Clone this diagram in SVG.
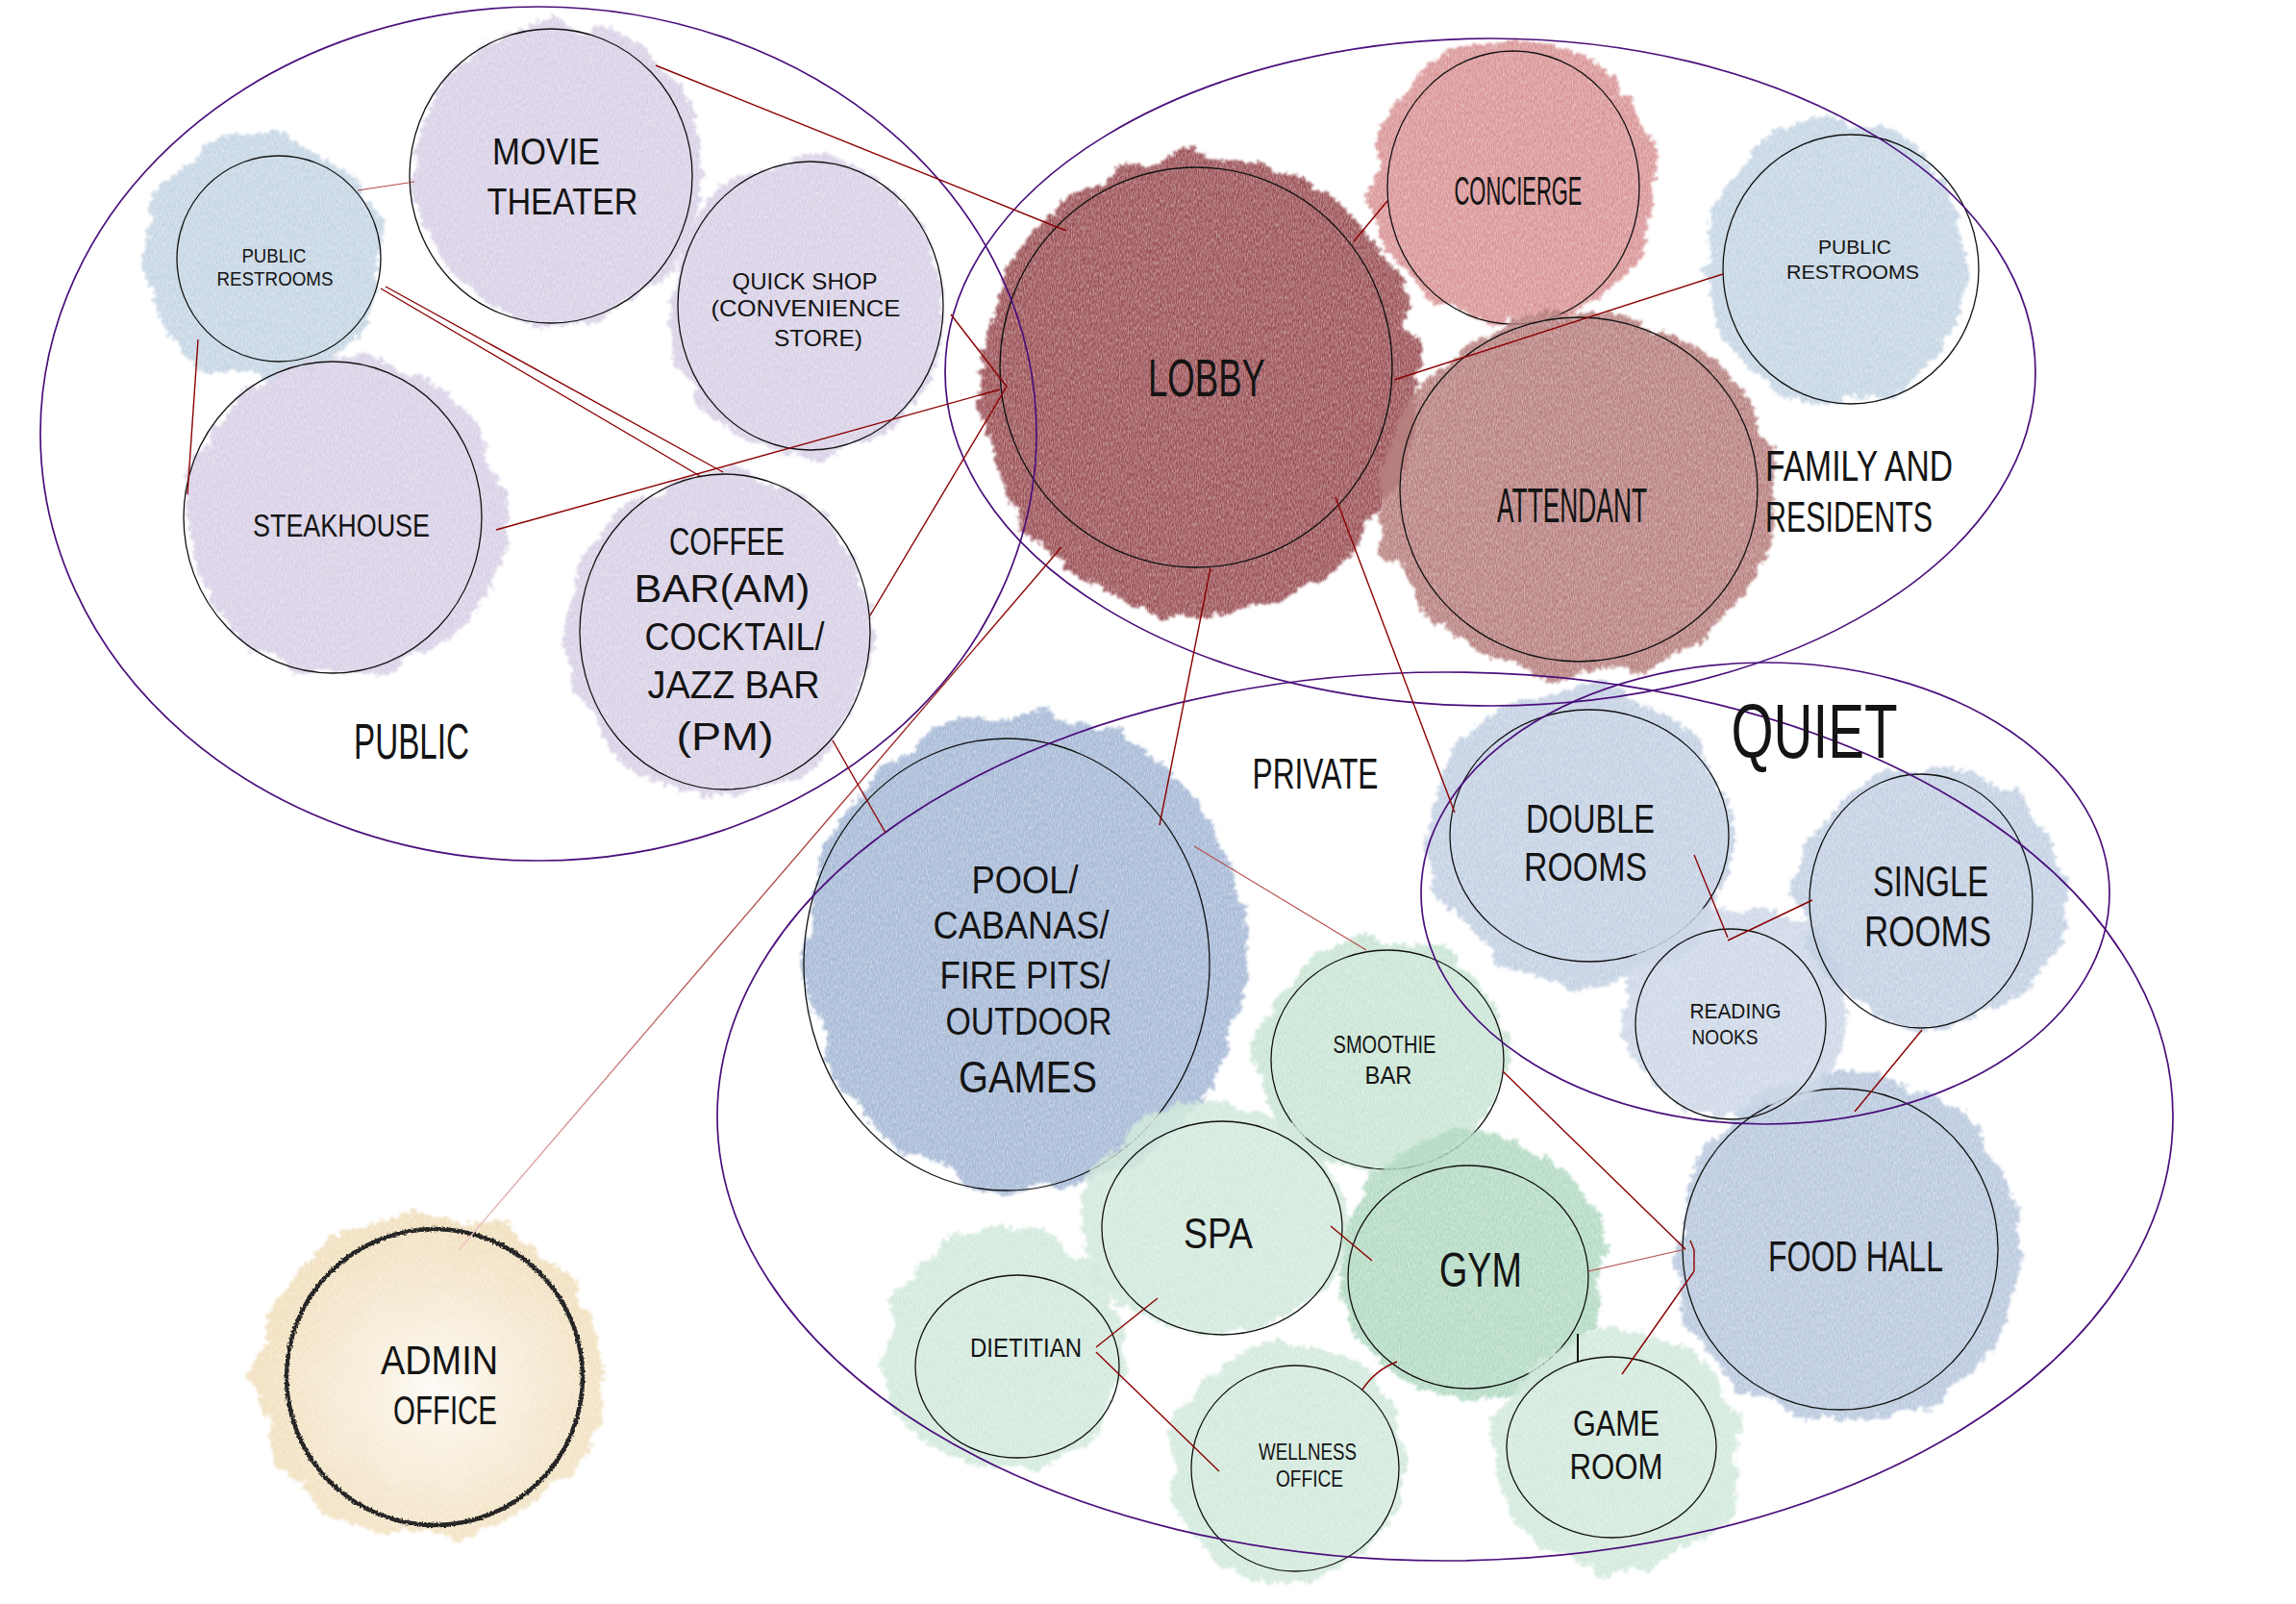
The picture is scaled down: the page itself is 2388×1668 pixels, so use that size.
<svg xmlns="http://www.w3.org/2000/svg" width="2388" height="1668" viewBox="0 0 2388 1668">
<defs>
<style>
.node{fill:none;stroke:#111;stroke-width:1.3}
.zone{fill:none;stroke:#4b0f7c;stroke-width:1.7}
.blob{filter:url(#wc)}
.t{font-family:"Liberation Sans",Arial,sans-serif;fill:#141414;text-anchor:middle}
.ts{font-family:"Liberation Sans",Arial,sans-serif;fill:#141414;text-anchor:start}
.c{stroke:#8b0000;stroke-width:1.4;fill:none}
.cl{stroke:#b44a4a;stroke-width:1.2;fill:none}
</style>
<filter id="wc" x="-20%" y="-20%" width="140%" height="140%" color-interpolation-filters="sRGB">
<feTurbulence type="fractalNoise" baseFrequency="0.022" numOctaves="3" seed="5" result="n1"/>
<feDisplacementMap in="SourceGraphic" in2="n1" scale="30" xChannelSelector="R" yChannelSelector="B" result="d0"/>
<feTurbulence type="fractalNoise" baseFrequency="0.18" numOctaves="2" seed="11" result="n3"/>
<feDisplacementMap in="d0" in2="n3" scale="12" xChannelSelector="G" yChannelSelector="R" result="d1"/>
<feGaussianBlur in="d1" stdDeviation="1.2" result="d"/>
<feTurbulence type="fractalNoise" baseFrequency="0.9 0.25" numOctaves="2" seed="9" result="n2"/>
<feColorMatrix in="n2" type="matrix" values="0 0 0 0 0  0 0 0 0 0  0 0 0 0 0  0.8 0 0 0 0.45" result="g"/>
<feComposite in="d" in2="g" operator="in"/>
</filter>
<filter id="rough" x="-10%" y="-10%" width="120%" height="120%">
<feTurbulence type="fractalNoise" baseFrequency="0.5" numOctaves="2" seed="3" result="n"/>
<feDisplacementMap in="SourceGraphic" in2="n" scale="4" xChannelSelector="R" yChannelSelector="G"/>
</filter>
<radialGradient id="adminFill" cx="0.52" cy="0.55" r="0.5">
<stop offset="0" stop-color="#fdfbf6"/>
<stop offset="0.35" stop-color="#f8eedc"/>
<stop offset="1" stop-color="#f1dfbd"/>
</radialGradient>
<linearGradient id="adminLine" gradientUnits="userSpaceOnUse" x1="1104" y1="569" x2="477" y2="1300">
<stop offset="0" stop-color="#8b0000"/>
<stop offset="0.6" stop-color="#b85a5a"/>
<stop offset="1" stop-color="#eec6c6"/>
</linearGradient>
</defs>
<rect width="2388" height="1668" fill="#ffffff"/>

<g id="nodes">
<g id="movie-theater">
<ellipse class="blob" cx="580" cy="180" rx="150" ry="155" fill="#d8d0e6"/>
<ellipse class="node" cx="573" cy="183" rx="147" ry="153"/>
<text class="t" x="568" y="171" font-size="38" textLength="112" lengthAdjust="spacingAndGlyphs">MOVIE</text>
<text class="t" x="585" y="223" font-size="38" textLength="157" lengthAdjust="spacingAndGlyphs">THEATER</text>
</g>
<g id="public-restrooms-left">
<ellipse class="blob" cx="272" cy="268" rx="125" ry="128" fill="#c5d5e4"/>
<ellipse class="node" cx="290" cy="269" rx="106" ry="107"/>
<text class="t" x="285" y="273" font-size="20" textLength="67" lengthAdjust="spacingAndGlyphs">PUBLIC</text>
<text class="t" x="286" y="297" font-size="20" textLength="121" lengthAdjust="spacingAndGlyphs">RESTROOMS</text>
</g>
<g id="quick-shop">
<ellipse class="blob" cx="840" cy="320" rx="145" ry="155" fill="#d8d0e6"/>
<ellipse class="node" cx="843" cy="318" rx="138" ry="150"/>
<text class="t" x="837" y="301" font-size="24" textLength="151" lengthAdjust="spacingAndGlyphs">QUICK SHOP</text>
<text class="t" x="838" y="329" font-size="24" textLength="197" lengthAdjust="spacingAndGlyphs">(CONVENIENCE</text>
<text class="t" x="851" y="360" font-size="24" textLength="92" lengthAdjust="spacingAndGlyphs">STORE)</text>
</g>
<g id="steakhouse">
<ellipse class="blob" cx="360" cy="538" rx="165" ry="165" fill="#d8d0e6"/>
<ellipse class="node" cx="346" cy="538" rx="155" ry="162"/>
<text class="t" x="355" y="558" font-size="34" textLength="184" lengthAdjust="spacingAndGlyphs">STEAKHOUSE</text>
</g>
<g id="coffee-bar">
<ellipse class="blob" cx="748" cy="660" rx="160" ry="168" fill="#d8d0e6"/>
<ellipse class="node" cx="754" cy="657" rx="151" ry="164"/>
<text class="t" x="756" y="577" font-size="40" textLength="120" lengthAdjust="spacingAndGlyphs">COFFEE</text>
<text class="t" x="751" y="626" font-size="40" textLength="183" lengthAdjust="spacingAndGlyphs">BAR(AM)</text>
<text class="t" x="764" y="676" font-size="40" textLength="187" lengthAdjust="spacingAndGlyphs">COCKTAIL/</text>
<text class="t" x="763" y="726" font-size="40" textLength="179" lengthAdjust="spacingAndGlyphs">JAZZ BAR</text>
<text class="t" x="754" y="780" font-size="40" textLength="101" lengthAdjust="spacingAndGlyphs">(PM)</text>
</g>
<g id="lobby">
<ellipse class="blob" cx="1248" cy="400" rx="228" ry="240" fill="#9b5257"/>
<ellipse class="node" cx="1244" cy="382" rx="204" ry="208"/>
<text class="t" x="1255" y="412" font-size="56" textLength="122" lengthAdjust="spacingAndGlyphs">LOBBY</text>
</g>
<g id="concierge">
<ellipse class="blob" cx="1575" cy="190" rx="148" ry="148" fill="#d99496"/>
<ellipse class="node" cx="1574" cy="195" rx="131" ry="142"/>
<text class="t" x="1579" y="213" font-size="42" textLength="133" lengthAdjust="spacingAndGlyphs">CONCIERGE</text>
</g>
<g id="attendant">
<ellipse class="blob" cx="1643" cy="515" rx="205" ry="190" fill="#b7807f"/>
<ellipse class="node" cx="1642" cy="509" rx="186" ry="179"/>
<text class="t" x="1635" y="543" font-size="50" textLength="156" lengthAdjust="spacingAndGlyphs">ATTENDANT</text>
</g>
<g id="public-restrooms-right">
<ellipse class="blob" cx="1910" cy="272" rx="135" ry="148" fill="#c5d5e4"/>
<ellipse class="node" cx="1925" cy="280" rx="133" ry="140"/>
<text class="t" x="1929" y="264" font-size="21" textLength="76" lengthAdjust="spacingAndGlyphs">PUBLIC</text>
<text class="t" x="1927" y="290" font-size="21" textLength="138" lengthAdjust="spacingAndGlyphs">RESTROOMS</text>
</g>
<g id="pool">
<ellipse class="blob" cx="1068" cy="990" rx="230" ry="248" fill="#a6b9d6"/>
<ellipse class="node" cx="1047" cy="1003" rx="211" ry="235"/>
<text class="t" x="1066" y="929" font-size="40" textLength="111" lengthAdjust="spacingAndGlyphs">POOL/</text>
<text class="t" x="1062" y="976" font-size="40" textLength="183" lengthAdjust="spacingAndGlyphs">CABANAS/</text>
<text class="t" x="1066" y="1028" font-size="40" textLength="177" lengthAdjust="spacingAndGlyphs">FIRE PITS/</text>
<text class="t" x="1070" y="1076" font-size="40" textLength="173" lengthAdjust="spacingAndGlyphs">OUTDOOR</text>
<text class="t" x="1069" y="1136" font-size="46" textLength="144" lengthAdjust="spacingAndGlyphs">GAMES</text>
</g>
<g id="smoothie-bar">
<ellipse class="blob" cx="1438" cy="1098" rx="130" ry="123" fill="#c9e5d4"/>
<ellipse class="node" cx="1443" cy="1102" rx="121" ry="114"/>
<text class="t" x="1440" y="1095" font-size="26" textLength="107" lengthAdjust="spacingAndGlyphs">SMOOTHIE</text>
<text class="t" x="1444" y="1127" font-size="26" textLength="49" lengthAdjust="spacingAndGlyphs">BAR</text>
</g>
<g id="spa">
<ellipse class="blob" cx="1262" cy="1268" rx="138" ry="122" fill="#d2e9dc"/>
<ellipse class="node" cx="1271" cy="1277" rx="125" ry="111"/>
<text class="t" x="1267" y="1298" font-size="44" textLength="72" lengthAdjust="spacingAndGlyphs">SPA</text>
</g>
<g id="gym">
<ellipse class="blob" cx="1530" cy="1315" rx="138" ry="140" fill="#b3dac3"/>
<ellipse class="node" cx="1527" cy="1328" rx="125" ry="116"/>
<text class="t" x="1540" y="1338" font-size="50" textLength="86" lengthAdjust="spacingAndGlyphs">GYM</text>
</g>
<g id="dietitian">
<ellipse class="blob" cx="1047" cy="1405" rx="125" ry="130" fill="#d2e9dc"/>
<ellipse class="node" cx="1058" cy="1421" rx="106" ry="95"/>
<text class="t" x="1067" y="1411" font-size="28" textLength="116" lengthAdjust="spacingAndGlyphs">DIETITIAN</text>
</g>
<g id="wellness-office">
<ellipse class="blob" cx="1338" cy="1522" rx="123" ry="125" fill="#d2e9dc"/>
<ellipse class="node" cx="1347" cy="1527" rx="108" ry="107"/>
<text class="t" x="1360" y="1518" font-size="23" textLength="102" lengthAdjust="spacingAndGlyphs">WELLNESS</text>
<text class="t" x="1362" y="1546" font-size="23" textLength="70" lengthAdjust="spacingAndGlyphs">OFFICE</text>
</g>
<g id="game-room">
<ellipse class="blob" cx="1683" cy="1510" rx="130" ry="125" fill="#d2e9dc"/>
<ellipse class="node" cx="1676" cy="1505" rx="109" ry="94"/>
<text class="t" x="1681" y="1493" font-size="37" textLength="90" lengthAdjust="spacingAndGlyphs">GAME</text>
<text class="t" x="1681" y="1538" font-size="37" textLength="97" lengthAdjust="spacingAndGlyphs">ROOM</text>
</g>
<g id="food-hall">
<ellipse class="blob" cx="1921" cy="1300" rx="178" ry="182" fill="#b9c8de"/>
<ellipse class="node" cx="1914" cy="1299" rx="164" ry="167"/>
<text class="t" x="1930" y="1322" font-size="44" textLength="182" lengthAdjust="spacingAndGlyphs">FOOD HALL</text>
</g>
<g id="double-rooms">
<ellipse class="blob" cx="1644" cy="871" rx="160" ry="155" fill="#c3d0e3"/>
<ellipse class="node" cx="1653" cy="869" rx="145" ry="131"/>
<text class="t" x="1654" y="866" font-size="42" textLength="134" lengthAdjust="spacingAndGlyphs">DOUBLE</text>
<text class="t" x="1649" y="916" font-size="42" textLength="128" lengthAdjust="spacingAndGlyphs">ROOMS</text>
</g>
<g id="reading-nooks">
<ellipse class="blob" cx="1806" cy="1052" rx="117" ry="110" fill="#cdd7e7"/>
<ellipse class="node" cx="1800" cy="1065" rx="99" ry="99"/>
<text class="t" x="1805" y="1059" font-size="22" textLength="95" lengthAdjust="spacingAndGlyphs">READING</text>
<text class="t" x="1794" y="1086" font-size="22" textLength="69" lengthAdjust="spacingAndGlyphs">NOOKS</text>
</g>
<g id="single-rooms">
<ellipse class="blob" cx="2008" cy="932" rx="140" ry="135" fill="#c3d0e3"/>
<ellipse class="node" cx="1998" cy="937" rx="116" ry="132"/>
<text class="t" x="2008" y="932" font-size="44" textLength="120" lengthAdjust="spacingAndGlyphs">SINGLE</text>
<text class="t" x="2005" y="984" font-size="44" textLength="132" lengthAdjust="spacingAndGlyphs">ROOMS</text>
</g>
<g id="admin-office">
<ellipse class="blob" cx="447" cy="1430" rx="180" ry="168" fill="url(#adminFill)"/>
<ellipse cx="452" cy="1432" rx="154" ry="154" fill="none" stroke="#262626" stroke-width="4.5" filter="url(#rough)"/>
<text class="t" x="457" y="1429" font-size="42" textLength="122" lengthAdjust="spacingAndGlyphs">ADMIN</text>
<text class="t" x="463" y="1481" font-size="42" textLength="108" lengthAdjust="spacingAndGlyphs">OFFICE</text>
</g>
</g>

<g id="zones">
<ellipse class="zone" cx="560" cy="451" rx="518" ry="444"/>
<ellipse class="zone" cx="1550" cy="387" rx="567" ry="347"/>
<ellipse class="zone" cx="1503" cy="1161" rx="757" ry="462"/>
<ellipse class="zone" cx="1836" cy="929" rx="358" ry="240"/>
<text class="t" x="428" y="789" font-size="52" textLength="120" lengthAdjust="spacingAndGlyphs">PUBLIC</text>
<text class="ts" x="1836" y="500" font-size="44" textLength="195" lengthAdjust="spacingAndGlyphs">FAMILY AND</text>
<text class="ts" x="1836" y="553" font-size="44" textLength="174" lengthAdjust="spacingAndGlyphs">RESIDENTS</text>
<text class="t" x="1368" y="820" font-size="44" textLength="131" lengthAdjust="spacingAndGlyphs">PRIVATE</text>
<text class="t" x="1887" y="788" font-size="80" textLength="173" lengthAdjust="spacingAndGlyphs">QUIET</text>
</g>

<g id="connectors">
<line class="c" x1="682" y1="68" x2="1109" y2="240"/>
<line class="cl" x1="372" y1="198" x2="431" y2="189"/>
<line class="c" x1="206" y1="353" x2="195" y2="514"/>
<line class="c" x1="396" y1="300" x2="728" y2="495"/>
<line class="c" x1="401" y1="298" x2="752" y2="491"/>
<line class="c" x1="516" y1="551" x2="1040" y2="405"/>
<line class="c" x1="989" y1="327" x2="1047" y2="402"/>
<line class="c" x1="905" y1="640" x2="1047" y2="402"/>
<line x1="1104" y1="569" x2="477" y2="1300" stroke="url(#adminLine)" stroke-width="1.4"/>
<line class="c" x1="1259" y1="591" x2="1206" y2="858"/>
<line class="c" x1="866" y1="770" x2="921" y2="866"/>
<line class="c" x1="1389" y1="517" x2="1513" y2="845"/>
<line class="c" x1="1408" y1="251" x2="1443" y2="209"/>
<line class="c" x1="1450" y1="395" x2="1792" y2="285"/>
<line class="cl" x1="1242" y1="880" x2="1421" y2="988"/>
<line class="c" x1="1384" y1="1275" x2="1427" y2="1311"/>
<line class="c" x1="1204" y1="1350" x2="1140" y2="1401"/>
<line class="c" x1="1140" y1="1406" x2="1268" y2="1530"/>
<path class="c" d="M1453,1416 Q1430,1425 1417,1445"/>
<line x1="1641" y1="1387" x2="1641" y2="1416" stroke="#111" stroke-width="2"/>
<line class="cl" x1="1652" y1="1322" x2="1753" y2="1299"/>
<line class="c" x1="1563" y1="1114" x2="1753" y2="1299"/>
<line class="c" x1="1687" y1="1429" x2="1762" y2="1322"/>
<path class="c" d="M1758,1290 L1762,1300 L1762,1322"/>
<line class="c" x1="1762" y1="889" x2="1797" y2="975"/>
<line class="c" x1="1797" y1="978" x2="1885" y2="936"/>
<line class="c" x1="1999" y1="1071" x2="1929" y2="1156"/>
</g>
</svg>
